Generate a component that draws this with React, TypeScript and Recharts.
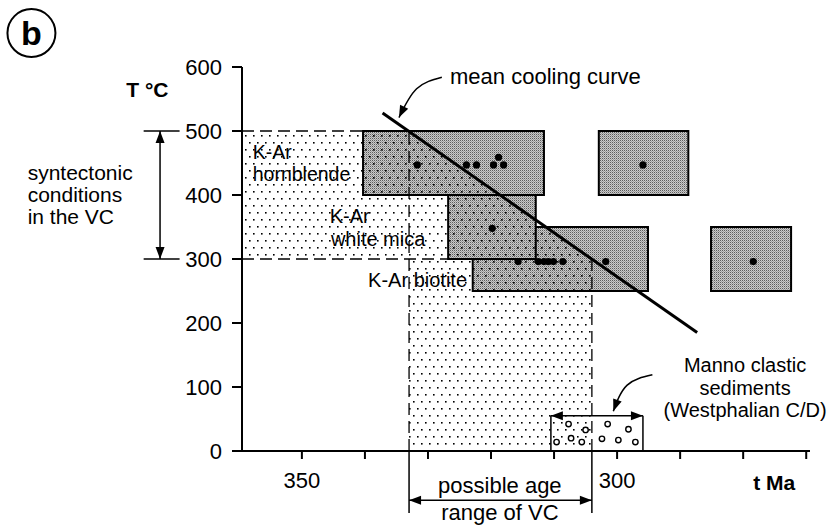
import React from "react";
import {
  Area,
  ComposedChart,
  Line,
  ReferenceArea,
  ReferenceDot,
  ReferenceLine,
  Scatter,
  XAxis,
  YAxis,
} from "recharts";

const ageTicks = [350, 340, 330, 320, 310, 300, 290, 280, 270];
const labelledAges = [350, 300];
const tempTicks = [0, 100, 200, 300, 400, 500, 600];

// K-Ar windows: age span (Ma) and closure temperature band (°C)
const boxMinerals = ["biotite", "hornblende", "white mica", "hornblende", "biotite"];
const boxAgeOld = [322.9, 340.3, 326.8, 302.9, 285.1];
const boxAgeYoung = [295.1, 311.6, 312.9, 288.7, 272.4];
const boxTempLow = [250, 400, 300, 400, 250];
const boxTempHigh = [350, 500, 400, 500, 350];

// single K-Ar dates
const dateAges = [331.7, 323.9, 322.3, 319.6, 318.8, 318.0, 295.9, 319.8, 315.7, 312.5, 311.6, 310.9, 310.1, 308.6, 301.8, 278.4];
const dateTemps = [447, 447, 447, 447, 459, 447, 447, 348, 296, 296, 296, 296, 296, 296, 296, 296];

// syntectonic band + possible age range of VC
const vcAges = [359.5, 333, 333, 304];
const vcUpper = [500, 500, 500, 300];
const vcLower = [300, 300, 0, 0];

// mean cooling curve
const coolAges = [337.2, 287.3];
const coolTemps = [528, 185];

// Manno clastic sediments (Westphalian C/D)
const mannoAges = [310.5, 295.9];
const mannoTop = 55;
const pebbleAges = [307.7, 305.0, 309.6, 307.3, 305.6, 301.5, 298.2, 302.4, 299.8, 297.1];
const pebbleTemps = [42, 33, 14, 20, 14, 42, 34, 19, 17, 14];

const boxes = boxMinerals.map((m, i) => ({
  mineral: m,
  x1: boxAgeOld[i],
  x2: boxAgeYoung[i],
  y1: boxTempLow[i],
  y2: boxTempHigh[i],
}));
const dates = dateAges.map((t, i) => ({ t, T: dateTemps[i] }));
const vcData = vcAges.map((t, i) => ({ t, band: [vcLower[i], vcUpper[i]] }));
const coolData = coolAges.map((t, i) => ({ t, T: coolTemps[i] }));
const pebbles = pebbleAges.map((t, i) => ({ t, T: pebbleTemps[i] }));

const font = '"Liberation Sans", Arial, Helvetica, sans-serif';
const dash = "12 6";

const note = (
  key: string,
  t: number,
  T: number,
  text: string,
  opts: { size?: number; bold?: boolean; anchor?: string } = {}
) => (
  <ReferenceDot
    key={key}
    x={t}
    y={T}
    r={1}
    ifOverflow="visible"
    zIndex={2000}
    shape={(p: any) => (
      <text
        x={p.cx}
        y={p.cy}
        fontFamily={font}
        fontSize={opts.size ?? 20}
        fontWeight={opts.bold ? 700 : 400}
        textAnchor={opts.anchor ?? "start"}
        fill="#000"
      >
        {text}
      </text>
    )}
  />
);

const doubleArrow = (p: any) => (
  <line
    x1={p.x1}
    y1={p.y1}
    x2={p.x2}
    y2={p.y2}
    stroke="#000"
    strokeWidth={1.5}
    markerStart="url(#arrowHead)"
    markerEnd="url(#arrowHead)"
  />
);

export default function App() {
  return (
    <div style={{ position: "absolute", left: 0, top: 0, width: 832, height: 525, background: "#fff" }}>
      <ComposedChart
        width={832}
        height={525}
        margin={{ top: 67, right: 22, bottom: 34, left: 182 }}
      >
        <defs>
          <pattern id="dots" width="8" height="14" patternUnits="userSpaceOnUse">
            <rect x="1" y="2" width="1.6" height="1.6" fill="#000" />
            <rect x="5" y="9" width="1.6" height="1.6" fill="#000" />
          </pattern>
          <pattern id="halftone" width="2" height="2" patternUnits="userSpaceOnUse">
            <rect width="2" height="2" fill="#cacaca" />
            <rect width="1" height="1" fill="#5c5c5c" />
            <rect x="1" y="1" width="1" height="1" fill="#9c9c9c" />
          </pattern>
          <marker
            id="arrowHead"
            viewBox="0 0 12 10"
            refX="12"
            refY="5"
            markerWidth="13"
            markerHeight="10"
            markerUnits="userSpaceOnUse"
            orient="auto-start-reverse"
          >
            <path d="M0,0.5 L12,5 L0,9.5 z" fill="#000" />
          </marker>
        </defs>

        <XAxis
          dataKey="t"
          type="number"
          domain={[269.4, 359.5]}
          reversed
          allowDataOverflow
          ticks={ageTicks}
          tickFormatter={(v: number) => (labelledAges.includes(v) ? String(v) : "")}
          height={40}
          tickSize={8}
          tickMargin={13}
          axisLine={{ stroke: "#000", strokeWidth: 2 }}
          tickLine={{ stroke: "#000", strokeWidth: 2 }}
          tick={{ fill: "#000", fontSize: 22, fontFamily: font }}
        />
        <YAxis
          dataKey="T"
          type="number"
          domain={[0, 600]}
          allowDataOverflow
          ticks={tempTicks}
          width={60}
          tickSize={10}
          tickMargin={10}
          axisLine={{ stroke: "#000", strokeWidth: 2 }}
          tickLine={{ stroke: "#000", strokeWidth: 2 }}
          tick={{ fill: "#000", fontSize: 22, fontFamily: font }}
        />

        {boxes.map((b) => (
          <ReferenceArea
            key={b.mineral + b.x1}
            x1={b.x1}
            x2={b.x2}
            y1={b.y1}
            y2={b.y2}
            fill="url(#halftone)"
            fillOpacity={1}
            stroke="#000"
            strokeWidth={2}
            zIndex={100}
          />
        ))}

        <Area
          data={vcData}
          dataKey="band"
          type="linear"
          fill="url(#dots)"
          fillOpacity={1}
          stroke="none"
          isAnimationActive={false}
          zIndex={150}
        />

        {/* dashed outline of the syntectonic band / VC age window */}
        <ReferenceLine segment={[{ x: 359.5, y: 500 }, { x: 333, y: 500 }]} stroke="#000" strokeWidth={1.3} strokeDasharray={dash} ifOverflow="visible" zIndex={160} />
        <ReferenceLine segment={[{ x: 359.5, y: 300 }, { x: 326.8, y: 300 }]} stroke="#000" strokeWidth={1.3} strokeDasharray={dash} ifOverflow="visible" zIndex={160} />
        <ReferenceLine segment={[{ x: 333, y: 0 }, { x: 333, y: 500 }]} stroke="#000" strokeWidth={1.3} strokeDasharray={dash} ifOverflow="visible" zIndex={160} />
        <ReferenceLine segment={[{ x: 304, y: 0 }, { x: 304, y: 300 }]} stroke="#000" strokeWidth={1.3} strokeDasharray={dash} ifOverflow="visible" zIndex={160} />

        {/* Manno sediments box */}
        <ReferenceLine segment={[{ x: mannoAges[0], y: 0 }, { x: mannoAges[0], y: mannoTop }]} stroke="#000" strokeWidth={1.5} ifOverflow="visible" zIndex={170} />
        <ReferenceLine segment={[{ x: mannoAges[1], y: 0 }, { x: mannoAges[1], y: mannoTop }]} stroke="#000" strokeWidth={1.5} ifOverflow="visible" zIndex={170} />
        <ReferenceLine segment={[{ x: mannoAges[0], y: mannoTop }, { x: mannoAges[1], y: mannoTop }]} shape={doubleArrow} ifOverflow="visible" zIndex={170} />

        {/* syntectonic bracket left of the axis */}
        <ReferenceLine segment={[{ x: 375.1, y: 500 }, { x: 369.4, y: 500 }]} stroke="#000" strokeWidth={1.5} ifOverflow="visible" zIndex={170} />
        <ReferenceLine segment={[{ x: 375.1, y: 300 }, { x: 369.4, y: 300 }]} stroke="#000" strokeWidth={1.5} ifOverflow="visible" zIndex={170} />
        <ReferenceLine segment={[{ x: 372.5, y: 500 }, { x: 372.5, y: 300 }]} shape={doubleArrow} ifOverflow="visible" zIndex={170} />

        {/* possible age range bracket below the axis */}
        <ReferenceLine segment={[{ x: 333, y: 0 }, { x: 333, y: -97 }]} stroke="#000" strokeWidth={1.5} ifOverflow="visible" zIndex={170} />
        <ReferenceLine segment={[{ x: 304, y: 0 }, { x: 304, y: -97 }]} stroke="#000" strokeWidth={1.5} ifOverflow="visible" zIndex={170} />
        <ReferenceLine segment={[{ x: 333, y: -77 }, { x: 304, y: -77 }]} shape={doubleArrow} ifOverflow="visible" zIndex={170} />

        <Line
          data={coolData}
          dataKey="T"
          type="linear"
          stroke="#000"
          strokeWidth={3}
          dot={false}
          isAnimationActive={false}
          zIndex={400}
        />
        <Line
          data={[{ t: 327.8, T: 584 }, { t: 331.8, T: 566 }, { t: 334.6, T: 521 }]}
          dataKey="T"
          type="natural"
          stroke="#000"
          strokeWidth={1.5}
          dot={false}
          markerEnd="url(#arrowHead)"
          isAnimationActive={false}
          zIndex={400}
        />
        <Line
          data={[{ t: 294.4, T: 119 }, { t: 298.4, T: 103 }, { t: 300.6, T: 62 }]}
          dataKey="T"
          type="natural"
          stroke="#000"
          strokeWidth={1.5}
          dot={false}
          markerEnd="url(#arrowHead)"
          isAnimationActive={false}
          zIndex={400}
        />

        <Scatter
          data={dates}
          isAnimationActive={false}
          zIndex={600}
          shape={(p: any) => <circle cx={p.cx} cy={p.cy} r={3.6} fill="#000" />}
        />
        <Scatter
          data={pebbles}
          isAnimationActive={false}
          zIndex={600}
          shape={(p: any) => (
            <circle cx={p.cx} cy={p.cy} r={2.7} fill="#fff" stroke="#000" strokeWidth={1.4} />
          )}
        />

        <ReferenceDot
          x={392.9}
          y={653}
          r={24}
          ifOverflow="visible"
          zIndex={2000}
          shape={(p: any) => (
            <g>
              <circle cx={p.cx} cy={p.cy} r={24} fill="none" stroke="#000" strokeWidth={2} />
              <text x={p.cx} y={p.cy + 12} textAnchor="middle" fontFamily={font} fontSize={34} fontWeight={700} fill="#000">
                b
              </text>
            </g>
          )}
        />
        {note("tc", 374.5, 553, "T °C", { bold: true, anchor: "middle", size: 21 })}
        {note("s1", 393.5, 423, "syntectonic", { size: 21 })}
        {note("s2", 393.5, 388.5, "conditions", { size: 21 })}
        {note("s3", 393.5, 354, "in the VC", { size: 21 })}
        {note("h1", 357.8, 456, "K-Ar", { size: 19.5 })}
        {note("h2", 357.8, 421.5, "hornblende", { size: 19.5 })}
        {note("w1", 345.6, 356, "K-Ar")}
        {note("w2", 345.4, 321, "white mica")}
        {note("bi", 339.5, 256, "K-Ar biotite")}
        {note("mc", 326.5, 573, "mean cooling curve", { size: 22 })}
        {note("m1", 279.7, 123, "Manno clastic", { anchor: "middle" })}
        {note("m2", 279.7, 88, "sediments", { anchor: "middle" })}
        {note("m3", 279.7, 53.5, "(Westphalian C/D)", { anchor: "middle" })}
        {note("p1", 318.6, -65.6, "possible age", { size: 22, anchor: "middle" })}
        {note("p2", 318.6, -108.5, "range of VC", { size: 22, anchor: "middle" })}
        {note("tm", 278.4, -61, "t Ma", { bold: true, size: 21 })}
      </ComposedChart>
    </div>
  );
}
